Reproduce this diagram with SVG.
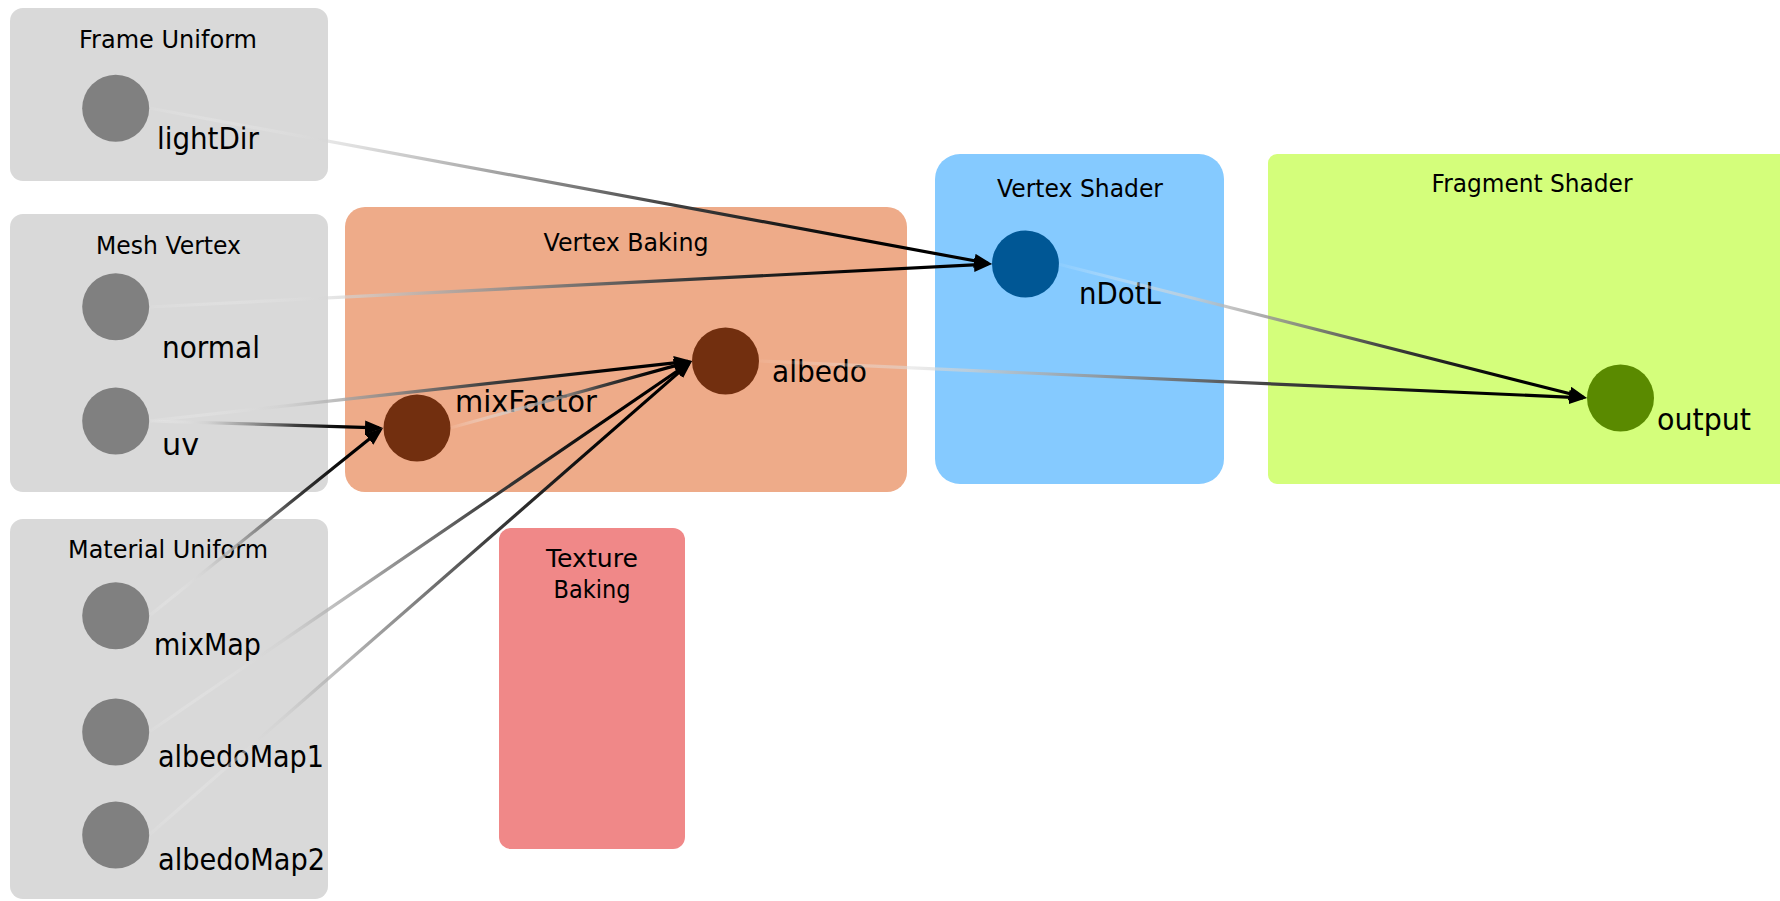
<svg xmlns="http://www.w3.org/2000/svg" xmlns:xlink="http://www.w3.org/1999/xlink" width="1780" height="901" viewBox="0 0 1780 901">
  <style>
    text { font-family: "DejaVu Sans", "Open Sans", sans-serif; fill: #000; }
    .title { font-size: 24px; text-anchor: middle; }
    .label { font-size: 30.5px; }
    .grp-uniform { fill: #d9d9d9; }
    .src { fill: #808080; }
    .bake { fill: #eeab89; }
    .bake-node { fill: #722f0f; }
    .tex { fill: #f08888; }
    .vs { fill: #85caff; }
    .vs-node { fill: #005795; }
    .fs { fill: #d4fe7b; }
    .fs-node { fill: #5a8a00; }
    .edge { fill: none; stroke-width: 3.2; marker-end: url(#arrow); }
  </style>
  <defs>
    <marker id="arrow" markerUnits="userSpaceOnUse" markerWidth="18" markerHeight="14" refX="14" refY="7" orient="auto">
      <path d="M0,0 L18,7 L0,14 z" fill="#000"/>
    </marker>
    <!-- shared fade: pale at the source end, solid black at the target end -->
    <linearGradient id="fade">
      <stop offset="0" stop-color="#ffffff" stop-opacity="0.05"/>
      <stop offset="0.25" stop-color="#cfcfcf" stop-opacity="0.7"/>
      <stop offset="0.62" stop-color="#404040"/>
      <stop offset="0.85" stop-color="#000000"/>
      <stop offset="1" stop-color="#000000"/>
    </linearGradient>
    <linearGradient id="g1" href="#fade" gradientUnits="userSpaceOnUse" x1="149" y1="108" x2="992" y2="264"/>
    <linearGradient id="g2" href="#fade" gradientUnits="userSpaceOnUse" x1="149" y1="307" x2="992" y2="264"/>
    <linearGradient id="g3" href="#fade" gradientUnits="userSpaceOnUse" x1="149" y1="421" x2="692" y2="361"/>
    <linearGradient id="g4" href="#fade" gradientUnits="userSpaceOnUse" x1="149" y1="421" x2="383" y2="428"/>
    <linearGradient id="g5" href="#fade" gradientUnits="userSpaceOnUse" x1="149" y1="616" x2="383" y2="428"/>
    <linearGradient id="g6" href="#fade" gradientUnits="userSpaceOnUse" x1="149" y1="732" x2="692" y2="361"/>
    <linearGradient id="g7" href="#fade" gradientUnits="userSpaceOnUse" x1="149" y1="835" x2="692" y2="361"/>
    <linearGradient id="g8" href="#fade" gradientUnits="userSpaceOnUse" x1="450" y1="428" x2="692" y2="361"/>
    <linearGradient id="g9" href="#fade" gradientUnits="userSpaceOnUse" x1="1058" y1="264" x2="1587" y2="398"/>
    <linearGradient id="g10" href="#fade" gradientUnits="userSpaceOnUse" x1="759" y1="361" x2="1587" y2="398"/>
  </defs>

  <rect width="1780" height="901" fill="#ffffff"/>

  <!-- input groups -->
  <g id="frame-uniform">
    <rect class="grp-uniform" x="10" y="8" width="318" height="173" rx="13"/>
    <text class="title" x="168" y="48" textLength="178" lengthAdjust="spacingAndGlyphs">Frame Uniform</text>
  </g>
  <g id="mesh-vertex">
    <rect class="grp-uniform" x="10" y="214" width="318" height="278" rx="13"/>
    <text class="title" x="168.5" y="254" textLength="145" lengthAdjust="spacingAndGlyphs">Mesh Vertex</text>
  </g>
  <g id="material-uniform">
    <rect class="grp-uniform" x="10" y="519" width="318" height="380" rx="13"/>
    <text class="title" x="168" y="558" textLength="200" lengthAdjust="spacingAndGlyphs">Material Uniform</text>
  </g>

  <!-- processing stages -->
  <g id="vertex-baking">
    <rect class="bake" x="345" y="207" width="562" height="285" rx="20"/>
    <text class="title" x="626" y="251" textLength="165" lengthAdjust="spacingAndGlyphs">Vertex Baking</text>
  </g>
  <g id="texture-baking">
    <rect class="tex" x="499" y="528" width="186" height="321" rx="12"/>
    <text class="title" x="592" y="567" textLength="92" lengthAdjust="spacingAndGlyphs">Texture</text>
    <text class="title" x="592" y="598" textLength="77" lengthAdjust="spacingAndGlyphs">Baking</text>
  </g>
  <g id="vertex-shader">
    <rect class="vs" x="935" y="154" width="289" height="330" rx="25"/>
    <text class="title" x="1080" y="197" textLength="166" lengthAdjust="spacingAndGlyphs">Vertex Shader</text>
  </g>
  <g id="fragment-shader">
    <rect class="fs" x="1268" y="154" width="530" height="330" rx="9"/>
    <text class="title" x="1532" y="192" textLength="201" lengthAdjust="spacingAndGlyphs">Fragment Shader</text>
  </g>

  <!-- value nodes -->
  <g id="lightDir">
    <circle class="src" cx="115.7" cy="108.3" r="33.5"/>
    <text class="label" x="157" y="149" textLength="102" lengthAdjust="spacingAndGlyphs">lightDir</text>
  </g>
  <g id="normal">
    <circle class="src" cx="115.7" cy="306.7" r="33.5"/>
    <text class="label" x="162" y="358" textLength="98" lengthAdjust="spacingAndGlyphs">normal</text>
  </g>
  <g id="uv">
    <circle class="src" cx="115.7" cy="421" r="33.5"/>
    <text class="label" x="162" y="455" textLength="37" lengthAdjust="spacingAndGlyphs">uv</text>
  </g>
  <g id="mixMap">
    <circle class="src" cx="115.7" cy="615.7" r="33.5"/>
    <text class="label" x="154" y="655" textLength="107" lengthAdjust="spacingAndGlyphs">mixMap</text>
  </g>
  <g id="albedoMap1">
    <circle class="src" cx="115.7" cy="732" r="33.5"/>
    <text class="label" x="158" y="767" textLength="166" lengthAdjust="spacingAndGlyphs">albedoMap1</text>
  </g>
  <g id="albedoMap2">
    <circle class="src" cx="115.7" cy="835" r="33.5"/>
    <text class="label" x="158" y="870" textLength="167" lengthAdjust="spacingAndGlyphs">albedoMap2</text>
  </g>
  <g id="mixFactor">
    <circle class="bake-node" cx="417" cy="428" r="33.5"/>
    <text class="label" x="455" y="412" textLength="142" lengthAdjust="spacingAndGlyphs">mixFactor</text>
  </g>
  <g id="albedo">
    <circle class="bake-node" cx="725.5" cy="361" r="33.5"/>
    <text class="label" x="772" y="382" textLength="95" lengthAdjust="spacingAndGlyphs">albedo</text>
  </g>
  <g id="nDotL">
    <circle class="vs-node" cx="1025.5" cy="264" r="33.5"/>
    <text class="label" x="1079" y="304" textLength="82" lengthAdjust="spacingAndGlyphs">nDotL</text>
  </g>
  <g id="output">
    <circle class="fs-node" cx="1620.5" cy="398" r="33.5"/>
    <text class="label" x="1657" y="430" textLength="94" lengthAdjust="spacingAndGlyphs">output</text>
  </g>

  <!-- data flow -->
  <g id="connectors">
    <path class="edge" stroke="url(#g1)" d="M149,108 L988.1,263.3"/>
    <path class="edge" stroke="url(#g2)" d="M149,307 L988,264.2"/>
    <path class="edge" stroke="url(#g3)" d="M149,421 L688,361.4"/>
    <path class="edge" stroke="url(#g4)" d="M149,421 L379,427.9"/>
    <path class="edge" stroke="url(#g5)" d="M149,616 L379.9,430.5"/>
    <path class="edge" stroke="url(#g6)" d="M149,732 L688.7,363.3"/>
    <path class="edge" stroke="url(#g7)" d="M149,835 L689,363.6"/>
    <path class="edge" stroke="url(#g8)" d="M450,428 L688.1,362.1"/>
    <path class="edge" stroke="url(#g9)" d="M1058,264 L1583.1,397"/>
    <path class="edge" stroke="url(#g10)" d="M759,361 L1583,397.8"/>
  </g>
</svg>
